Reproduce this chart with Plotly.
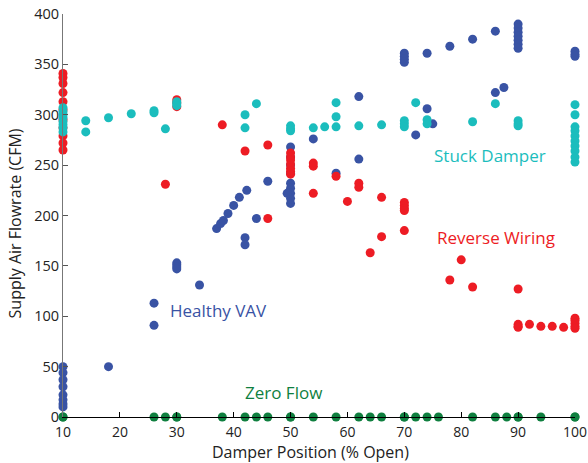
import plotly.graph_objects as go

# Healthy VAV (blue)
healthy_x = [10, 10, 10, 10, 10, 10, 10, 10, 18, 26, 26, 30, 30, 30, 30, 34,
             37, 37.7, 38.2, 39, 40, 41, 42.3, 42, 42, 44, 46,
             50, 50, 50, 50, 50, 50, 50, 50, 50, 49.4,
             54, 58, 62, 62, 72, 74, 75,
             70, 70, 70, 70, 74, 78, 82, 86,
             90, 90, 90, 90, 90, 90, 90, 100, 100, 100, 86, 87.5]
healthy_y = [50, 44, 37, 30, 22, 17, 13, 10, 50, 113, 91, 153, 151, 149, 147, 131,
             187, 192, 195, 202, 210, 218, 225, 178, 171, 197, 234,
             268, 258, 250, 242, 232, 227, 222, 217, 212, 222,
             276, 242, 256, 318, 280, 306, 291,
             361, 358, 355, 352, 361, 368, 375, 383,
             390, 386, 382, 378, 374, 370, 366, 363, 360, 358, 322, 327]

# Reverse Wiring (red)
reverse_x = [10, 10, 10, 10, 10, 10, 10, 10, 10, 10, 10,
             28, 30, 30, 30, 38, 42, 46, 46,
             50, 50, 50, 50, 50, 50, 50, 54, 54, 54, 58, 60, 62, 62, 64, 66, 66,
             70, 70, 70, 70, 70, 78, 80, 82, 90,
             90, 90, 90, 92, 94, 96, 98, 100, 100, 100, 100, 100]
reverse_y = [341, 337, 331, 322, 313, 305, 295, 287, 279, 272, 265,
             231, 315, 312, 308, 290, 264, 270, 197,
             262, 258, 255, 251, 247, 244, 241, 252, 249, 222, 239, 214, 232, 228, 163, 218, 179,
             213, 210, 207, 205, 185, 136, 156, 129, 127,
             92, 90, 89, 92, 90, 90, 89, 98, 96, 93, 90, 88]

# Stuck Damper (cyan)
stuck_x = [10, 10, 10, 10, 10, 10, 10, 10, 14, 14, 18, 22, 26, 26, 28, 30, 30, 30,
           42, 42, 44, 50, 50, 50, 54, 56, 58, 58, 58, 62, 66, 70, 70, 70, 72, 74, 74,
           82, 86, 90, 90, 90,
           100, 100, 100, 100, 100, 100, 100, 100, 100, 100]
stuck_y = [307, 303, 300, 297, 293, 290, 287, 283, 294, 283, 297, 301, 304, 302, 286, 313, 311, 309,
           300, 287, 311, 289, 286, 284, 287, 288, 312, 298, 288, 289, 290, 294, 291, 288, 312, 295, 291,
           293, 311, 294, 291, 289,
           310, 300, 288, 284, 279, 274, 269, 264, 258, 253]

# Zero Flow (green)
zero_x = [10, 10, 26, 28, 30, 30, 38, 42, 44, 46, 50, 50, 54, 58, 62, 64, 66,
          70, 70, 72, 74, 76, 82, 86, 88, 90, 90, 94, 100, 100]
zero_y = [0] * len(zero_x)

labels = ["Healthy VAV", "Reverse Wiring", "Stuck Damper", "Zero Flow"]
label_x = [37.3, 86.1, 85.0, 48.8]
label_y = [106, 178, 260, 24]

x_ticks = [10, 20, 30, 40, 50, 60, 70, 80, 90, 100]
y_ticks = [0, 50, 100, 150, 200, 250, 300, 350, 400]
x_title = "Damper Position (% Open)"
y_title = "Supply Air Flowrate (CFM)"

blue = "#3953A4"
red = "#ED1C24"
cyan = "#1BBDBD"
green = "#0F7F3F"
colors = [blue, red, cyan, green]
FONT = "Open Sans"

fig = go.Figure()
for xs, ys, c, n in [(healthy_x, healthy_y, blue, labels[0]),
                     (reverse_x, reverse_y, red, labels[1]),
                     (stuck_x, stuck_y, cyan, labels[2]),
                     (zero_x, zero_y, green, labels[3])]:
    fig.add_trace(go.Scatter(x=xs, y=ys, mode="markers", name=n,
                             marker=dict(color=c, size=9, line=dict(width=0)),
                             cliponaxis=False, showlegend=False))

for t, xx, yy, c in zip(labels, label_x, label_y, colors):
    fig.add_annotation(x=xx, y=yy, text=t, showarrow=False,
                       font=dict(color=c, size=17, family=FONT),
                       xanchor="center", yanchor="middle")

# axis titles
fig.add_annotation(x=0.484, y=-0.086, xref="paper", yref="paper", text=x_title,
                   showarrow=False, xanchor="center", yanchor="middle",
                   font=dict(size=16, family=FONT, color="#222"))
fig.add_annotation(x=-0.094, y=0.48, xref="paper", yref="paper", text=y_title,
                   showarrow=False, xanchor="center", yanchor="middle", textangle=-90,
                   font=dict(size=16, family=FONT, color="#222"))

fig.update_layout(
    width=588, height=463,
    margin=dict(l=63, r=13, t=14, b=46),
    paper_bgcolor="white", plot_bgcolor="white",
    font=dict(family=FONT, size=14, color="#222"),
    xaxis=dict(range=[10, 100], tickvals=x_ticks, automargin=False,
               showgrid=False, zeroline=False, showline=True, linecolor="black",
               linewidth=1.2, ticks="inside", ticklen=5, tickcolor="black",
               ticklabelstandoff=2, tickfont=dict(size=14)),
    yaxis=dict(range=[0, 400], tickvals=y_ticks, automargin=False,
               showgrid=False, zeroline=False, showline=True, linecolor="#777",
               linewidth=1.2, ticks="inside", ticklen=5, tickcolor="#555",
               tickfont=dict(size=14.5)),
)

# remove the default 8px page margin so the 588x463 figure fills the window
fig.write_html("out.html", config={"displayModeBar": False},
               post_script="document.body.style.margin='0px';document.body.style.overflow='hidden';")
